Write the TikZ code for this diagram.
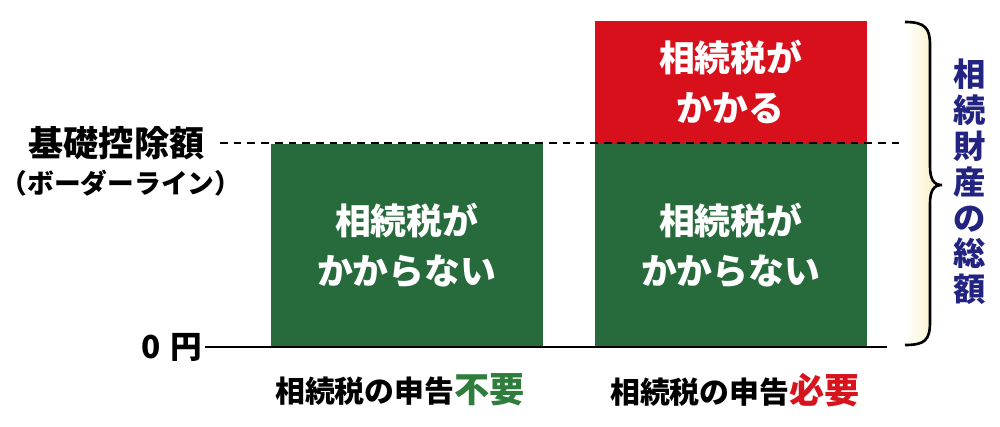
\documentclass[tikz,border=0pt]{standalone}
\usepackage{fontspec}
\setmainfont{Noto Sans CJK JP}
\definecolor{boxgreen}{RGB}{39,107,60}
\definecolor{boxred}{RGB}{215,16,28}
\definecolor{navy}{RGB}{35,35,130}
\definecolor{txtgreen}{RGB}{46,125,60}
\definecolor{txtred}{RGB}{215,20,30}
\definecolor{cream}{RGB}{250,238,185}
\tikzset{
  barbox/.style={anchor=north west, inner sep=0pt, minimum width=27.2mm, align=center, text=white,
    font=\bfseries\fontsize{10.2}{14.2}\selectfont},
  greenbox/.style={barbox, fill=boxgreen, minimum height=20.4mm},
  redbox/.style={barbox, fill=boxred, minimum height=12.3mm},
  axislabel/.style={font=\bfseries\fontsize{10}{11}\selectfont, inner sep=0pt},
  bottomlabel/.style={font=\bfseries\fontsize{8.5}{10}\selectfont, inner sep=0pt},
  guide/.style={line width=0.6pt, dash pattern=on 2.2pt off 1.7pt},
  baseline line/.style={line width=0.75pt},
}
\begin{document}
\begin{tikzpicture}[x=0.1mm,y=-0.1mm]
\useasboundingbox (0,0) rectangle (1000,427);
% bars
\node[greenbox] (L) at (270,143) {相続税が\\かからない};
\node[greenbox] (R) at (594,143) {相続税が\\かからない};
\node[redbox] (T) at (594,20) {相続税が\\かかる};
% guide and baseline
\coordinate (g1) at (220,143);
\coordinate (g2) at (910,143);
\draw[guide] (g1) -- (g2);
\coordinate (b1) at (205,347);
\coordinate (b2) at (887,347);
\draw[baseline line] (b1) -- (b2);
% left labels
\node[axislabel, anchor=east] (kiso) at (205,143) {基礎控除額};
\node[font=\bfseries\fontsize{7.6}{10}\selectfont, inner sep=0pt] (border) at (121,183) {（ボーダーライン）};
\node[anchor=east, inner sep=0pt, font=\bfseries\fontsize{9}{10}\selectfont] (zero) at (203,347) {0\hspace{0.3em}円};
% bottom labels
\node[bottomlabel] (nl) at (400,390) {相続税の申告{\fontsize{10}{10}\selectfont\color{txtgreen}不要}};
\node[bottomlabel] (nr) at (735,390) {相続税の申告{\fontsize{10}{10}\selectfont\color{txtred}必要}};
% brace
\path[left color=white, right color=cream]
  (905,22) .. controls (925,22) and (930,28) .. (930,45) -- (930,166)
  .. controls (930,180) and (934,185) .. (942,185)
  .. controls (934,185) and (930,190) .. (930,204) -- (930,322)
  .. controls (930,340) and (925,345) .. (905,345) -- cycle;
\draw[line width=0.75pt]
  (905,22) .. controls (925,22) and (930,28) .. (930,45) -- (930,166)
  .. controls (930,180) and (934,185) .. (942,185)
  .. controls (934,185) and (930,190) .. (930,204) -- (930,322)
  .. controls (930,340) and (925,345) .. (905,345);
% vertical text
\node[text=navy, font=\bfseries\fontsize{9.2}{10.2}\selectfont, align=center, inner sep=0pt] (total) at (970,182)
  {相\\続\\財\\産\\の\\総\\額};
\end{tikzpicture}
\end{document}
